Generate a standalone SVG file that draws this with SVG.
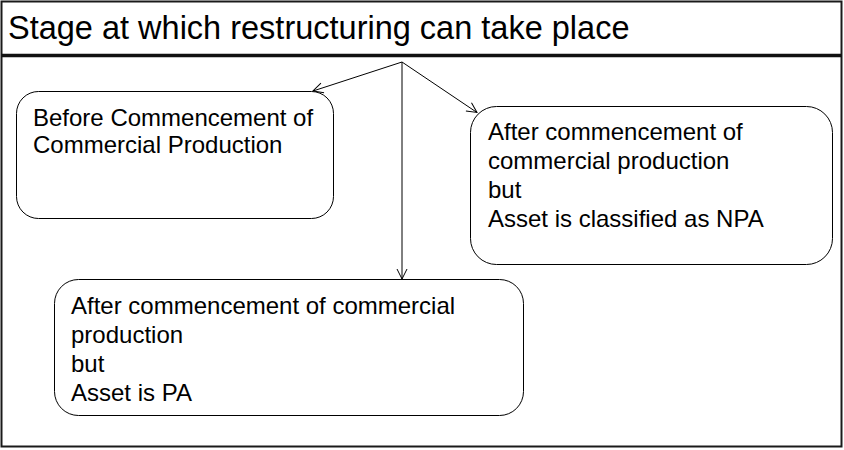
<svg xmlns="http://www.w3.org/2000/svg" width="844" height="450" viewBox="0 0 844 450">
  <style>
    .frame { fill: #ffffff; stroke: #1a1a1a; stroke-width: 2; }
    .node { fill: #ffffff; stroke: #000000; stroke-width: 1; }
    .txt { font-family: "Liberation Sans", Arial, sans-serif; font-size: 24px; fill: #000000; }
    .title { font-family: "Liberation Sans", Arial, sans-serif; font-size: 32.5px; fill: #000000; }
    .conn { fill: none; stroke: #000000; stroke-width: 1; marker-end: url(#arrow); }
  </style>
  <defs>
    <marker id="arrow" viewBox="0 0 12 12" refX="11" refY="6" markerWidth="12" markerHeight="12" markerUnits="userSpaceOnUse" orient="auto">
      <path d="M1,1 L11,6 L1,11" fill="none" stroke="#000000" stroke-width="1"/>
    </marker>
  </defs>
  <rect width="844" height="450" fill="#ffffff"/>
  <g id="frame">
    <rect class="frame" x="1.5" y="1.5" width="840" height="445"/>
    <line x1="1.5" y1="55.5" x2="841.5" y2="55.5" stroke="#111111" stroke-width="3.5"/>
    <text class="title" x="8" y="38.5">Stage at which restructuring can take place</text>
  </g>
  <g id="connectors">
    <line class="conn" x1="402" y1="62" x2="313" y2="91"/>
    <line class="conn" x1="402" y1="62" x2="477" y2="112.5"/>
    <line class="conn" x1="402" y1="62" x2="402" y2="279"/>
  </g>
  <g id="node-before">
    <rect class="node" x="16.5" y="91.5" width="317" height="127" rx="22" ry="22"/>
    <text class="txt" x="33" y="126">Before Commencement of</text>
    <text class="txt" x="33" y="153">Commercial Production</text>
  </g>
  <g id="node-npa">
    <rect class="node" x="470.5" y="106.5" width="362" height="158" rx="26" ry="26"/>
    <text class="txt" x="488" y="140">After commencement of</text>
    <text class="txt" x="488" y="169">commercial production</text>
    <text class="txt" x="488" y="198">but</text>
    <text class="txt" x="488" y="227">Asset is classified as NPA</text>
  </g>
  <g id="node-pa">
    <rect class="node" x="54.5" y="279.5" width="469" height="136" rx="24" ry="24"/>
    <text class="txt" x="71" y="314">After commencement of commercial</text>
    <text class="txt" x="71" y="343">production</text>
    <text class="txt" x="71" y="372">but</text>
    <text class="txt" x="71" y="401">Asset is PA</text>
  </g>
</svg>
